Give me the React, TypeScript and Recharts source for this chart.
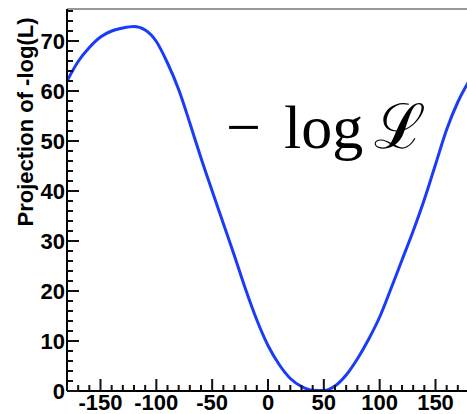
import React from 'react';
import { LineChart, Line, XAxis, YAxis, ReferenceLine } from 'recharts';

// scan angle (deg) and the projected -log(L)
const angles = [
  -180, -170, -160, -150, -140, -130, -120, -110, -100, -90, -80, -70, -60,
  -50, -40, -30, -20, -10, 0, 10, 20, 30, 40, 50, 60, 70, 80, 90, 100, 110,
  120, 130, 140, 150, 160, 170, 180,
];
const nll = [
  62, 65.9, 68.7, 70.8, 72.0, 72.6, 72.9, 72.2, 69.9, 65.6, 60.3, 53.6, 46.6,
  40.0, 33.5, 27.0, 20.3, 14.2, 9.1, 5.3, 2.5, 0.9, 0.15, 0.1, 1.0, 3.2, 6.4,
  10.3, 14.8, 20.4, 26.2, 32.0, 38.3, 45.3, 52.3, 57.8, 62.0,
];

const xLabels = [-150, -100, -50, 0, 50, 100, 150];
const yLabels = [0, 10, 20, 30, 40, 50, 60, 70];
const xDomain: [number, number] = [-180, 180];
const yDomain: [number, number] = [0, 76.4];

// minor tick grids (labels only on the values above)
const xTicks = Array.from({ length: 37 }, (_, i) => -180 + i * 10);
const yTicks = Array.from({ length: 39 }, (_, i) => i * 2);

const data = angles.map((a, i) => ({ x: a, y: nll[i] }));

const FONT = '"Liberation Sans", Arial, Helvetica, sans-serif';

// ROOT style: ticks point into the frame, long on labelled values
const XTick = (props: any) => {
  const { x, y, payload } = props;
  const major = xLabels.includes(payload.value);
  const len = major ? 12 : 6;
  return (
    <g>
      <rect x={Number(x) - 1} y={Number(y) - len} width={2} height={len} fill="#111" />
      {major && (
        <text x={x} y={Number(y) + 19} textAnchor="middle" fontFamily={FONT} fontWeight="bold" fontSize={22}>
          {payload.value}
        </text>
      )}
    </g>
  );
};

const YTick = (props: any) => {
  const { x, y, payload } = props;
  const major = yLabels.includes(payload.value);
  return (
    <g>
      <rect x={x} y={Number(y) - 1} width={major ? 12 : 6} height={2} fill="#111" />
      {major && (
        <text x={Number(x) - 2} y={y} dy="0.36em" textAnchor="end" fontFamily={FONT} fontWeight="bold" fontSize={22}>
          {payload.value}
        </text>
      )}
    </g>
  );
};

export default function App() {
  return (
    <div style={{ position: 'absolute', left: 0, top: 0, width: 467, height: 414 }}>
      <LineChart width={470} height={414} data={data} margin={{ top: 9, right: 1, left: 0, bottom: 0 }}>
        <XAxis
          type="number"
          dataKey="x"
          domain={xDomain}
          ticks={xTicks}
          interval={0}
          tickSize={0}
          tickMargin={0}
          height={23}
          tick={<XTick />}
          axisLine={{ stroke: '#000', strokeWidth: 2 }}
        />
        <YAxis
          type="number"
          domain={yDomain}
          ticks={yTicks}
          interval={0}
          tickSize={0}
          tickMargin={0}
          width={67}
          tick={<YTick />}
          axisLine={{ stroke: '#000', strokeWidth: 2 }}
        />
        <ReferenceLine y={yDomain[1]} stroke="#333" strokeWidth={1} />
        <Line
          type="monotone"
          dataKey="y"
          stroke="#1a3cfa"
          strokeWidth={3}
          dot={false}
          isAnimationActive={false}
        />
      </LineChart>
      <svg width={50} height={250} style={{ position: 'absolute', left: 0, top: 0 }}>
        <text
          x={25}
          y={122}
          transform="rotate(-90 25 122)"
          textAnchor="middle"
          dominantBaseline="central"
          fontFamily={FONT}
          fontWeight="bold"
          fontSize={22}
        >
          Projection of -log(L)
        </text>
      </svg>
      <svg width={210} height={75} style={{ position: 'absolute', left: 220, top: 90 }}>
        <text y={58} fontFamily='"Liberation Serif", "DejaVu Serif", serif' fontSize={62}>
          <tspan x={6}>−</tspan>
          <tspan x={64}>log</tspan>
          <tspan x={154}>ℒ</tspan>
        </text>
      </svg>
    </div>
  );
}
